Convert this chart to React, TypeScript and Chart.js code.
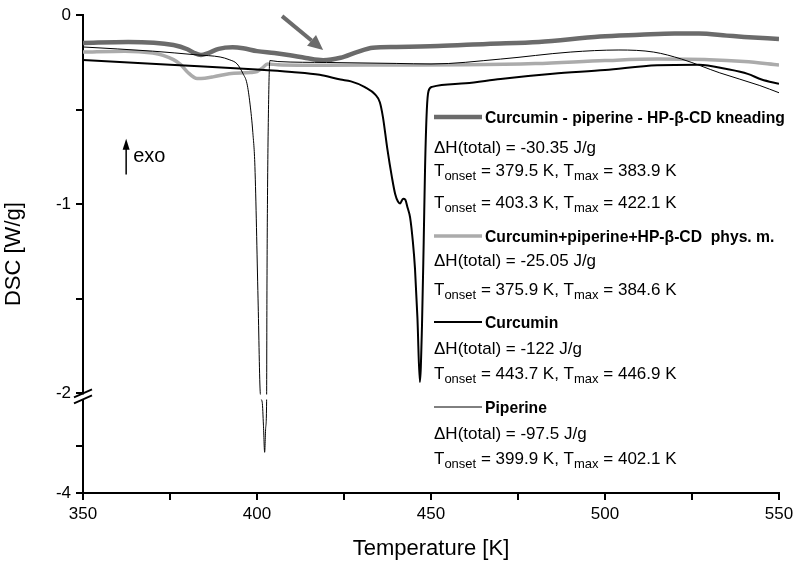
import React, { useEffect, useRef } from 'react';
import { Chart, registerables } from 'chart.js';

Chart.register(...registerables);

// ---------- data (temperature [K], DSC [W/g]) ----------
const kneadT = [350, 363, 376, 380, 382, 383.9, 386, 389, 393, 396, 400, 405, 409.5, 414, 419, 424, 428.7, 433.3, 440, 452, 466, 481, 498.6, 510, 520, 527, 535, 540, 550];
const kneadV = [-0.147, -0.142, -0.158, -0.18, -0.2, -0.21, -0.2, -0.178, -0.17, -0.175, -0.19, -0.2, -0.212, -0.226, -0.238, -0.225, -0.195, -0.172, -0.168, -0.163, -0.152, -0.142, -0.113, -0.104, -0.097, -0.097, -0.108, -0.115, -0.126];

const physT = [350, 362, 370, 373, 376, 378, 380, 382.8, 385, 387.4, 392, 398, 400, 401.5, 403, 406, 420, 440, 460, 480, 500, 515, 530, 540, 550];
const physV = [-0.195, -0.19, -0.2, -0.212, -0.235, -0.26, -0.3, -0.335, -0.333, -0.326, -0.309, -0.303, -0.298, -0.28, -0.258, -0.262, -0.265, -0.263, -0.262, -0.256, -0.24, -0.232, -0.235, -0.245, -0.263];

const curT = [350, 375, 400, 410, 418, 424, 427, 431, 434, 435.3, 436.2, 437.4, 438.8, 439.7, 440.5, 441.1, 442, 442.6, 443.3, 444, 444.8, 445.4, 446.1, 446.8, 447.4, 447.9, 448.3, 448.8, 449.3, 450.3, 460, 470, 485, 500, 515, 527, 535, 541, 545, 550];
const curV = [-0.237, -0.262, -0.287, -0.3, -0.315, -0.34, -0.35, -0.38, -0.42, -0.46, -0.54, -0.7, -0.86, -0.945, -0.985, -0.995, -0.97, -0.975, -1.02, -1.07, -1.2, -1.34, -1.6, -1.94, -1.65, -1.2, -0.8, -0.5, -0.4, -0.379, -0.36, -0.337, -0.31, -0.29, -0.265, -0.262, -0.285, -0.31, -0.34, -0.363];

const pipT = [350, 370, 382.8, 389.4, 392, 394.3, 396, 397.1, 398, 398.8, 399.4, 400.3, 400.95, 401.5, 401.85, 402.2, 402.5, 402.76, 402.85, 403.0, 403.3, 403.7, 406, 420, 440, 450, 470, 490, 504, 514, 522, 533, 544.5, 550];
const pipV = [-0.168, -0.19, -0.21, -0.221, -0.235, -0.258, -0.31, -0.36, -0.47, -0.62, -0.8, -1.5, -2.0, -2.06, -2.55, -3.13, -2.6, -2.05, -1.5, -1.0, -0.5, -0.24, -0.245, -0.25, -0.255, -0.258, -0.232, -0.195, -0.184, -0.195, -0.232, -0.305, -0.372, -0.41];

// ---------- ticks ----------
const xMin = 350;
const xMax = 550;
const xStep = 25;
const yTickValues = [0, -0.5, -1, -1.5, -2, -3, -4];
const yTickLabels = ['0', '', '-1', '', '-2', '', '-4'];

// ---------- legend / annotation text ----------
const seriesNames = [
  'Curcumin - piperine - HP-\u03B2-CD kneading',
  'Curcumin+piperine+HP-\u03B2-CD  phys. m.',
  'Curcumin',
  'Piperine',
];
const dHTexts = ['\u0394H(total) = -30.35 J/g', '\u0394H(total) = -25.05 J/g', '\u0394H(total) = -122 J/g', '\u0394H(total) = -97.5 J/g'];
const tOnset = [[379.5, 403.3], [375.9], [443.7], [399.9]];
const tMax = [[383.9, 422.1], [384.6], [446.9], [402.1]];

// ---------- styles ----------
const FF = "'Liberation Sans', Arial, Helvetica, sans-serif";
const COL_KNEAD = '#6b6b6b';
const COL_PHYS = '#ababab';
const styles = [
  { color: COL_KNEAD, width: 4.5 },
  { color: COL_PHYS, width: 3.5 },
  { color: '#000000', width: 2 },
  { color: '#000000', width: 1 },
];

// broken axis: upper part -2..0 linear, lower part -4..-2 compressed
const BREAK = -2;
const LOWER_RATIO = 47 / 190;
const GAP = 6 / 190;
function ty(v: number): number {
  if (v >= BREAK) return v;
  return BREAK - GAP - (BREAK - v) * LOWER_RATIO;
}

function toPts(xs: number[], ys: number[]) {
  return xs.map((t, i) => ({ x: t, y: ty(ys[i]) }));
}

function drawRich(ctx: CanvasRenderingContext2D, x: number, yBase: number, parts: { t: string; sub?: boolean }[]) {
  for (const p of parts) {
    ctx.font = p.sub ? `13px ${FF}` : `17px ${FF}`;
    ctx.fillText(p.t, x, p.sub ? yBase + 4 : yBase);
    x += ctx.measureText(p.t).width;
  }
}

const decorPlugin = {
  id: 'decor',
  afterDatasetsDraw(chart: any) {
    const { ctx, chartArea: ca, scales } = chart;
    const x = scales.x;
    const y = scales.y;
    ctx.save();
    // axis break
    const yUp = y.getPixelForValue(BREAK);
    const yLow = y.getPixelForValue(ty(BREAK - 1e-9));
    ctx.fillStyle = '#ffffff';
    ctx.fillRect(ca.left - 10, yUp + 1, ca.right - ca.left + 10, yLow - yUp - 1);
    ctx.strokeStyle = '#000';
    ctx.lineWidth = 2;
    const ax = ca.left;
    for (const yy of [yUp, yLow]) {
      ctx.beginPath();
      ctx.moveTo(ax - 9, yy + 4);
      ctx.lineTo(ax + 9, yy - 4);
      ctx.stroke();
    }

    // gray arrow
    const tx0 = x.getPixelForValue(407.2), ty0 = y.getPixelForValue(-0.005);
    const tx1 = x.getPixelForValue(419), ty1 = y.getPixelForValue(-0.184);
    const ang = Math.atan2(ty1 - ty0, tx1 - tx0);
    const hl = 15, hw = 7;
    const bx = tx1 - hl * Math.cos(ang), by = ty1 - hl * Math.sin(ang);
    ctx.strokeStyle = COL_KNEAD;
    ctx.fillStyle = COL_KNEAD;
    ctx.lineWidth = 4;
    ctx.beginPath();
    ctx.moveTo(tx0, ty0);
    ctx.lineTo(bx, by);
    ctx.stroke();
    ctx.beginPath();
    ctx.moveTo(tx1, ty1);
    ctx.lineTo(bx + hw * Math.sin(ang), by - hw * Math.cos(ang));
    ctx.lineTo(bx - hw * Math.sin(ang), by + hw * Math.cos(ang));
    ctx.closePath();
    ctx.fill();

    // exo arrow
    const ex = x.getPixelForValue(362.4);
    const eTop = y.getPixelForValue(-0.653);
    const eBot = y.getPixelForValue(-0.842);
    ctx.strokeStyle = '#000';
    ctx.fillStyle = '#000';
    ctx.lineWidth = 1.5;
    ctx.beginPath();
    ctx.moveTo(ex, eBot);
    ctx.lineTo(ex, eTop + 8);
    ctx.stroke();
    ctx.beginPath();
    ctx.moveTo(ex, eTop);
    ctx.lineTo(ex - 3.5, eTop + 11);
    ctx.lineTo(ex + 3.5, eTop + 11);
    ctx.closePath();
    ctx.fill();
    ctx.font = `20px ${FF}`;
    ctx.textBaseline = 'middle';
    ctx.textAlign = 'left';
    ctx.fillText('exo', ex + 7, y.getPixelForValue(-0.747));

    // legend block
    ctx.textBaseline = 'alphabetic';
    const lx = 434;
    const headBase = [123, 242, 328, 413];
    const dHBase = [153, 266, 354, 439];
    const tBase = [[176, 208], [295], [379], [464]];
    for (let i = 0; i < 4; i++) {
      const st = styles[i];
      ctx.strokeStyle = st.color;
      ctx.lineWidth = st.width;
      ctx.beginPath();
      ctx.moveTo(lx, headBase[i] - 6);
      ctx.lineTo(lx + 48, headBase[i] - 6);
      ctx.stroke();
      ctx.fillStyle = '#000';
      ctx.font = `bold 15.7px ${FF}`;
      ctx.fillText(seriesNames[i], lx + 51, headBase[i]);
      ctx.font = `17px ${FF}`;
      ctx.fillText(dHTexts[i], lx, dHBase[i]);
      tOnset[i].forEach((on, j) => {
        drawRich(ctx, lx, tBase[i][j], [
          { t: 'T' },
          { t: 'onset', sub: true },
          { t: ` = ${on.toFixed(1)} K, T` },
          { t: 'max', sub: true },
          { t: ` = ${tMax[i][j].toFixed(1)} K` },
        ]);
      });
    }
    ctx.restore();
  },
};

export default function App() {
  const ref = useRef<HTMLCanvasElement | null>(null);
  useEffect(() => {
    if (!ref.current) return;
    const series = [
      { d: toPts(pipT, pipV), s: styles[3] },
      { d: toPts(curT, curV), s: styles[2] },
      { d: toPts(physT, physV), s: styles[1] },
      { d: toPts(kneadT, kneadV), s: styles[0] },
    ];
    const chart = new Chart(ref.current, {
      type: 'line',
      data: {
        datasets: series.map((sr, i) => ({
          label: seriesNames[3 - i],
          data: sr.d,
          borderColor: sr.s.color,
          borderWidth: sr.s.width,
          pointRadius: 0,
          fill: false,
          cubicInterpolationMode: 'monotone' as const,
        })),
      },
      options: {
        animation: false,
        responsive: true,
        maintainAspectRatio: false,
        layout: { padding: { left: 0, top: 13, right: 21, bottom: 0 } },
        plugins: { legend: { display: false }, tooltip: { enabled: false } },
        scales: {
          x: {
            type: 'linear',
            min: xMin,
            max: xMax,
            ticks: {
              stepSize: xStep,
              autoSkip: false,
              maxRotation: 0,
              color: '#000',
              padding: 4,
              font: { family: FF, size: 17 },
              callback: (v: any) => (Number(v) % 50 === 0 ? String(v) : ''),
            },
            grid: { display: true, drawOnChartArea: false, drawTicks: true, tickLength: 7, color: '#000', lineWidth: 2 },
            border: { display: true, color: '#000', width: 2 },
            title: { display: true, text: 'Temperature [K]', color: '#000', font: { family: FF, size: 22 }, padding: { top: 0, bottom: 0 } },
            afterFit: (s: any) => { s.height = 69; },
          },
          y: {
            type: 'linear',
            min: ty(-4),
            max: 0,
            afterBuildTicks: (s: any) => { s.ticks = yTickValues.map((v) => ({ value: ty(v) })); },
            ticks: {
              autoSkip: false,
              color: '#000',
              padding: 5,
              font: { family: FF, size: 17 },
              callback: (_v: any, i: number) => yTickLabels[i],
            },
            grid: { display: true, drawOnChartArea: false, drawTicks: true, tickLength: 7, color: '#000', lineWidth: 2 },
            border: { display: true, color: '#000', width: 2 },
            title: { display: true, text: 'DSC [W/g]', color: '#000', font: { family: FF, size: 22 }, padding: { top: 1, bottom: 0 } },
            afterFit: (s: any) => { s.width = 83; },
          },
        },
      },
      plugins: [decorPlugin],
    } as any);
    return () => chart.destroy();
  }, []);
  return (
    <div style={{ position: 'fixed', left: 0, top: 0, width: 800, height: 562, background: '#fff' }}>
      <canvas ref={ref} />
    </div>
  );
}
